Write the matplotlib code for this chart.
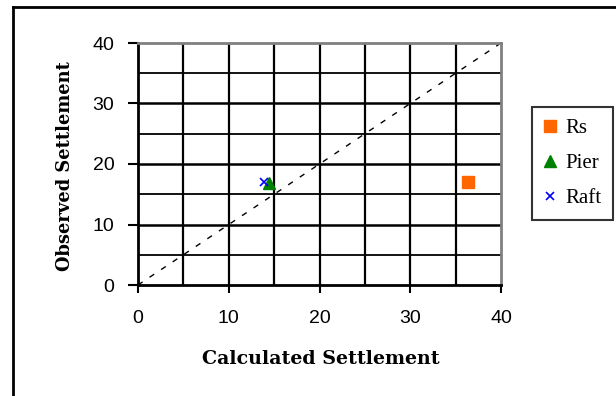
import matplotlib
matplotlib.use("Agg")
import matplotlib.pyplot as plt
from matplotlib.lines import Line2D

# Settlement comparison data
series_names = ["Rs", "Pier", "Raft"]
calculated = [36.4, 14.4, 13.9]
observed = [17.1, 16.9, 17.1]
markers = ["s", "^", "x"]
colors = ["#FF6600", "#008000", "#0000FF"]
marker_sizes = [9, 8, 6]

axis_ticks = [0, 10, 20, 30, 40]
grid_steps = [5, 15, 25, 35]

plt.rcParams["font.family"] = ["Liberation Serif", "DejaVu Serif"]

W, H = 616, 396
fig = plt.figure(figsize=(W / 100, H / 100), dpi=100)
fig.patch.set_facecolor("white")

# outer frame lines (left and top)
fig.add_artist(Line2D([13 / W, 13 / W], [0, 1 - 7 / H], transform=fig.transFigure,
                      color="black", lw=2))
fig.add_artist(Line2D([13 / W, 1], [1 - 7 / H, 1 - 7 / H], transform=fig.transFigure,
                      color="black", lw=2))

ax = fig.add_axes([138 / W, 1 - 285 / H, (501 - 138) / W, (285 - 43) / H])
ax.set_xlim(0, 40)
ax.set_ylim(0, 40)

# grid
for v in grid_steps + axis_ticks[1:-1]:
    ax.axvline(v, color="black", lw=1.6, zorder=1)
for v in grid_steps:
    ax.axhline(v, color="black", lw=1.3, zorder=1)
for v in axis_ticks[1:-1]:
    ax.axhline(v, color="black", lw=1.8, zorder=1)

# 1:1 reference line
ax.plot([0, 40], [0, 40], linestyle=(0, (4, 6)), color="black", lw=1.0, zorder=2)

for name, cx, oy, m, c, s in zip(series_names, calculated, observed, markers, colors, marker_sizes):
    kw = dict(markeredgewidth=1.2) if m == "x" else dict(markeredgecolor=c)
    ax.plot([cx], [oy], linestyle="none", marker=m, color=c, markersize=s,
            label=name, zorder=3, **kw)

ax.set_xticks(axis_ticks)
ax.set_yticks(axis_ticks)
ax.tick_params(axis="both", direction="out", width=1.5, labelsize=14, color="black")
ax.tick_params(axis="x", length=6, pad=12)
ax.tick_params(axis="y", length=7, pad=10)
for lab in ax.get_xticklabels() + ax.get_yticklabels():
    lab.set_family(["Liberation Sans", "DejaVu Sans"])
    lab.set_fontweight("light")

ax.spines["left"].set_linewidth(2)
ax.spines["bottom"].set_linewidth(2)
ax.spines["top"].set_color("#808080")
ax.spines["right"].set_color("#808080")
ax.spines["top"].set_linewidth(2)
ax.spines["right"].set_linewidth(2)

label_font = dict(family=["DejaVu Serif"], fontweight="bold")
fig.text(321 / W, 1 - 359 / H, "Calculated Settlement", ha="center", va="center",
         fontsize=13.7, **label_font)
fig.text(65 / W, 1 - 166.5 / H, "Observed Settlement", ha="center", va="center",
         rotation=90, fontsize=12.9, **label_font)

leg = fig.legend(loc="upper left", bbox_to_anchor=(532 / W, 1 - 107 / H),
                 frameon=True, fancybox=False, edgecolor="black", fontsize=15,
                 handlelength=0.6, handletextpad=0.45, borderpad=0.55, labelspacing=0.75,
                 borderaxespad=0)
leg.get_frame().set_linewidth(1.5)

fig.savefig("out.png", dpi=100, facecolor="white")
